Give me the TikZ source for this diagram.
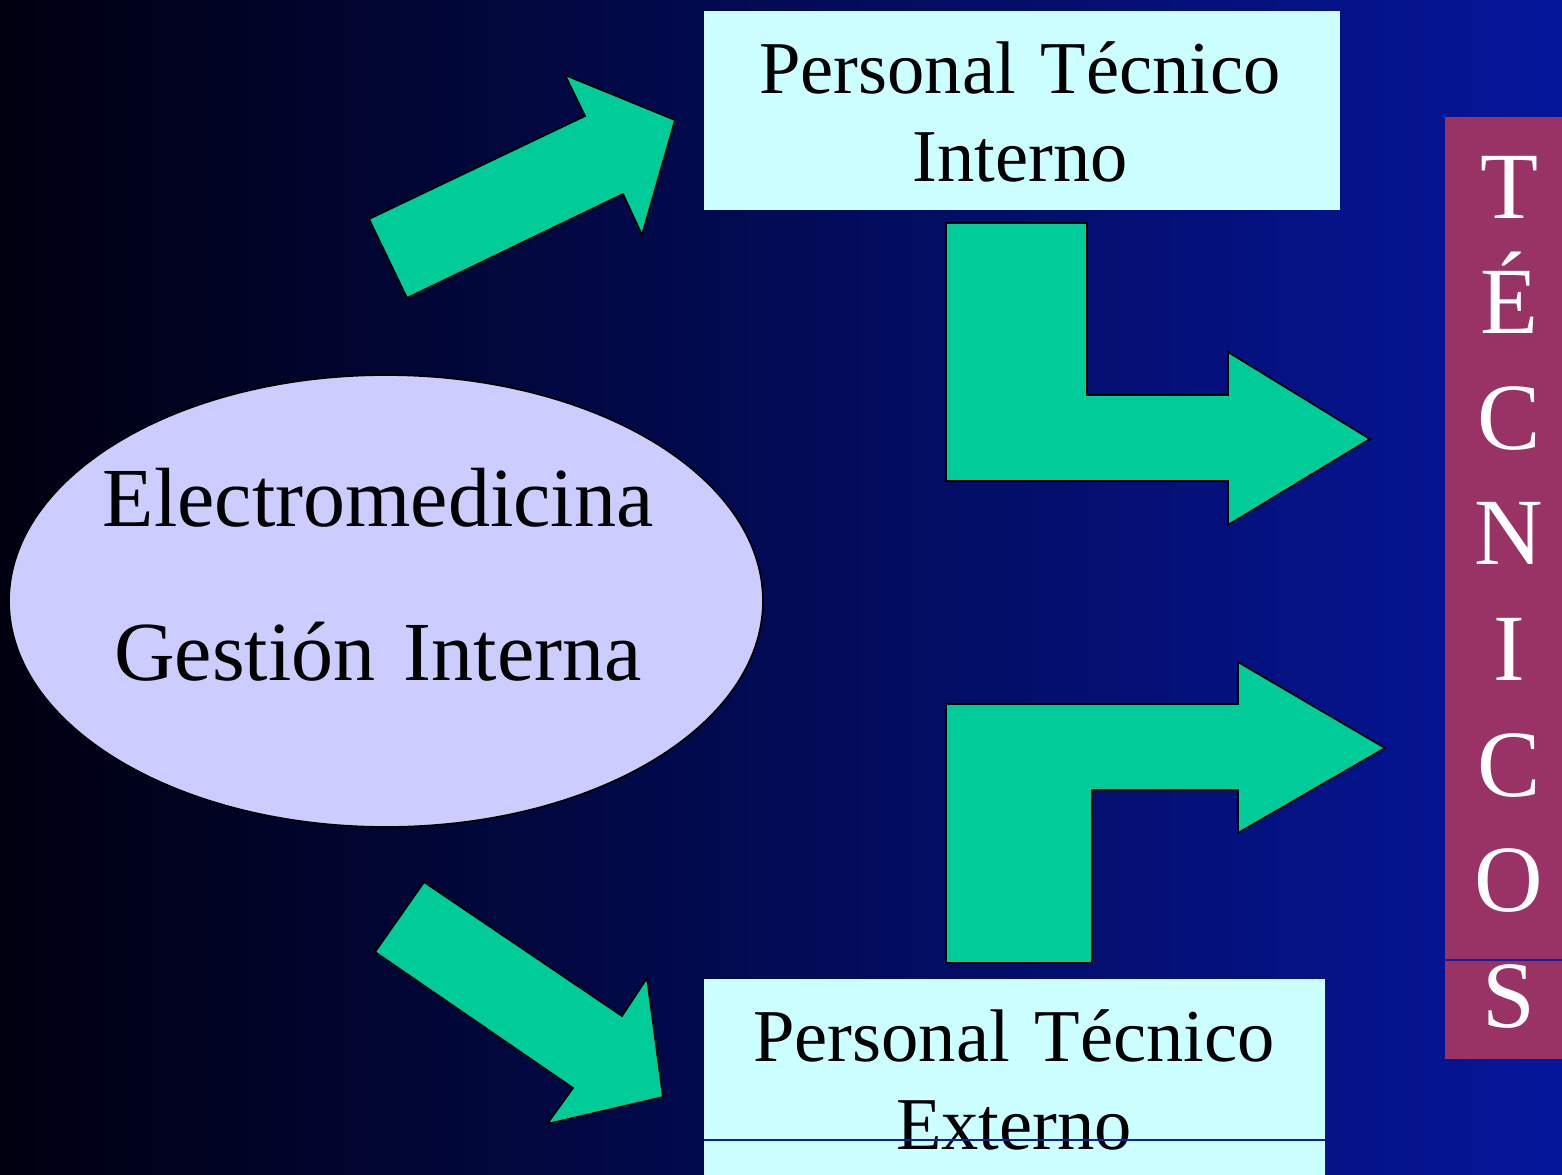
\documentclass[tikz,border=0pt]{standalone}
\usepackage{fontspec}
\setmainfont{Liberation Serif}
\usepackage{tikz}

\definecolor{nightnavy}{RGB}{0,0,16}
\definecolor{slideblue}{RGB}{5,22,155}
\definecolor{arrowgreen}{RGB}{0,204,153}
\definecolor{boxcyan}{RGB}{204,255,255}
\definecolor{ovallilac}{RGB}{204,204,255}
\definecolor{barplum}{RGB}{153,51,102}
\definecolor{seamblue}{RGB}{20,30,165}

\begin{document}
\begin{tikzpicture}[
  x=0.01cm, y=-0.01cm,
  bigarrow/.style={fill=arrowgreen, draw=black, line width=0.5pt, line join=miter},
  panel/.style={fill=boxcyan},
  oval/.style={fill=ovallilac, draw=black, line width=0.5pt},
  seam/.style={draw=seamblue, line width=0.35pt},
  caption/.style={anchor=base, text width=6cm, align=center, inner sep=0pt,
    font=\fontsize{21.2}{25.3}\selectfont},
  ovalcaption/.style={anchor=base, text width=7cm, align=center, inner sep=0pt,
    font=\fontsize{23.9}{43.8}\selectfont},
  letter/.style={anchor=base, text=white, inner sep=0pt, font=\fontsize{27}{27}\selectfont}
]
\useasboundingbox (0,0) rectangle (1562,1175);
\shade[left color=nightnavy, right color=slideblue] (0,0) rectangle (1562,1175);

\fill[panel] (704,11) rectangle (1340,210);
\fill[panel] (704,979) rectangle (1325,1175);
\fill[barplum] (1445,117) rectangle (1562,1059);

\draw[oval] (386,601) ellipse [x radius=377, y radius=226];

\draw[bigarrow] (369,219) -- (585,116) -- (565,75) -- (675,120) -- (642,235) -- (623,194) -- (407,298) -- cycle;
\draw[bigarrow] (424,882) -- (622,1016) -- (647,978) -- (663,1097) -- (547,1124) -- (573,1088) -- (375,952) -- cycle;
\draw[bigarrow] (946,223) -- (1087,223) -- (1087,395) -- (1228,395) -- (1228,352) -- (1370,439)
  -- (1228,525) -- (1228,481) -- (946,481) -- cycle;
\draw[bigarrow] (946,963) -- (946,704) -- (1238,704) -- (1238,662) -- (1385,748) -- (1238,833)
  -- (1238,790) -- (1092,790) -- (1092,963) -- cycle;

\node[caption] (interno) at (1020,93) {Personal Técnico\\Interno};
\node[caption] (externo) at (1014,1061) {Personal Técnico\\Externo};
\node[ovalcaption] (gestion) at (378,526) {Electromedicina\\Gestión Interna};

\foreach \ch [count=\i from 0] in {T,É,C,N,I,C,O,S}
  \node[letter] (tec\i) at (1509,{218+115.6*\i}) {\ch};

\draw[seam] (704,1140) -- (1325,1140);
\draw[seam] (1445,960) -- (1562,960);
\end{tikzpicture}
\end{document}
